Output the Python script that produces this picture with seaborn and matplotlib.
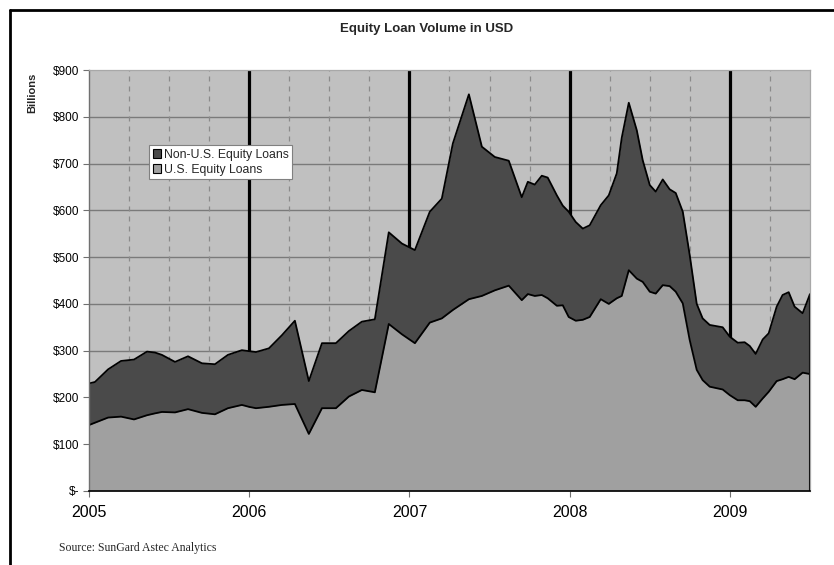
import matplotlib
matplotlib.use("Agg")
import matplotlib.pyplot as plt
import seaborn as sns
import pandas as pd
from matplotlib.lines import Line2D
from matplotlib.patches import Patch

# ---- data ----
years = [2005.000, 2005.037, 2005.119, 2005.200, 2005.281, 2005.362, 2005.412, 2005.455,
         2005.537, 2005.618, 2005.705, 2005.786, 2005.867, 2005.954, 2005.998,
         2006.042, 2006.123, 2006.204, 2006.285, 2006.372, 2006.454, 2006.541, 2006.622,
         2006.703, 2006.784, 2006.871, 2006.953,
         2007.034, 2007.127, 2007.202, 2007.271, 2007.371, 2007.452, 2007.533, 2007.620,
         2007.701, 2007.739, 2007.782, 2007.826, 2007.863, 2007.920, 2007.957, 2007.994,
         2008.038, 2008.082, 2008.125, 2008.194, 2008.244, 2008.294, 2008.325, 2008.369,
         2008.419, 2008.456, 2008.500, 2008.537, 2008.581, 2008.624, 2008.662, 2008.706,
         2008.749, 2008.793, 2008.830, 2008.874, 2008.955, 2008.999,
         2009.049, 2009.092, 2009.124, 2009.161, 2009.205, 2009.242, 2009.292, 2009.329,
         2009.367, 2009.404, 2009.454, 2009.500]

us_loans = [141, 146, 157, 159, 153, 162, 166, 169,
            168, 175, 167, 164, 177, 184, 180,
            177, 180, 184, 186, 122, 177, 177, 202,
            216, 211, 357, 335,
            316, 360, 369, 387, 410, 417, 429, 439,
            408, 421, 417, 419, 412, 396, 397, 372,
            364, 366, 372, 410, 400, 412, 417, 472,
            454, 447, 426, 422, 440, 438, 426, 401,
            323, 259, 237, 223, 217, 205,
            194, 194, 192, 180, 198, 212, 235, 239,
            244, 239, 253, 250]

non_us_loans = [89, 87, 103, 119, 128, 136, 130, 122,
                108, 113, 106, 107, 114, 117, 119,
                120, 125, 149, 178, 113, 139, 139, 140,
                146, 156, 196, 194,
                199, 237, 256, 356, 438, 319, 285, 267,
                220, 240, 238, 255, 258, 236, 213, 225,
                211, 195, 196, 201, 232, 267, 338, 358,
                317, 260, 228, 218, 226, 207, 211, 196,
                182, 141, 132, 132, 133, 125,
                123, 124, 118, 113, 126, 125, 159, 180,
                181, 155, 127, 171]

series_names = ["Non-U.S. Equity Loans", "U.S. Equity Loans"]
y_ticks = [0, 100, 200, 300, 400, 500, 600, 700, 800, 900]
y_labels = ["$-", "$100", "$200", "$300", "$400", "$500", "$600", "$700", "$800", "$900"]
x_ticks = [2005, 2006, 2007, 2008, 2009]
x_labels = ["2005", "2006", "2007", "2008", "2009"]
quarter_ticks = [2005.25, 2005.5, 2005.75, 2006.25, 2006.5, 2006.75, 2007.25, 2007.5,
                 2007.75, 2008.25, 2008.5, 2008.75, 2009.25]

C_BG = "#c0c0c0"
C_US = "#a0a0a0"
C_NONUS = "#4a4a4a"

sns.set_theme(style="white")
plt.rcParams['font.family'] = ['Liberation Sans', 'DejaVu Sans']

df = pd.DataFrame({"year": years, "us": us_loans, "non_us": non_us_loans})
df["total"] = df["us"] + df["non_us"]

W, H = 834, 565
fig = plt.figure(figsize=(W / 100, H / 100), dpi=100)
fig.patch.set_facecolor("white")
ax = fig.add_axes([89 / W, 1 - 491 / H, 721 / W, 421 / H])
ax.set_facecolor(C_BG)

# grid lines (behind data)
ax.set_axisbelow(True)
for y in y_ticks[1:-1]:
    ax.axhline(y, color="#7a7a7a", lw=1.0, zorder=0.5)
for q in quarter_ticks:
    ax.axvline(q, color="#8a8a8a", lw=0.9, ls=(0, (4, 4)), zorder=0.5)
for yr in x_ticks[1:]:
    ax.axvline(yr, color="black", lw=2.3, zorder=0.6)

# stacked areas
ax.fill_between(df["year"], 0, df["us"], color=C_US, lw=0, zorder=2)
ax.fill_between(df["year"], df["us"], df["total"], color=C_NONUS, lw=0, zorder=2)
sns.lineplot(data=df, x="year", y="us", color="black", lw=1.3, ax=ax, zorder=3)
sns.lineplot(data=df, x="year", y="total", color="black", lw=1.3, ax=ax, zorder=3)
ax.vlines(df["year"].iloc[-1], 0, df["total"].iloc[-1], color="black", lw=1.5, zorder=3)

ax.set_xlim(2005, 2009.5)
ax.set_ylim(0, 900)
ax.set_xlabel("")
ax.set_ylabel("")
ax.set_yticks(y_ticks)
ax.set_yticklabels(y_labels, fontsize=8.5, color="black")
ax.set_xticks(x_ticks)
ax.set_xticklabels(x_labels, fontsize=11.5, color="black")
ax.tick_params(axis="y", which="major", direction="out", length=4, width=0.8,
               color="#707070", pad=3, left=True)
ax.tick_params(axis="x", which="major", direction="out", length=4, width=0.8,
               color="#707070", pad=6, bottom=True)

for side in ["top", "right"]:
    ax.spines[side].set_color("#a8a8a8")
    ax.spines[side].set_linewidth(0.9)
ax.spines["left"].set_color("#707070")
ax.spines["left"].set_linewidth(1.0)
ax.spines["bottom"].set_color("black")
ax.spines["bottom"].set_linewidth(1.2)
for s in ax.spines.values():
    s.set_zorder(4)

# legend
handles = [Patch(facecolor=C_NONUS, edgecolor="black", lw=0.8, label=series_names[0]),
           Patch(facecolor=C_US, edgecolor="black", lw=0.8, label=series_names[1])]
leg = ax.legend(handles=handles, loc="upper left",
                bbox_to_anchor=(149 / W, 1 - 145 / H), bbox_transform=fig.transFigure,
                fontsize=8.8, frameon=True, fancybox=False, framealpha=1,
                edgecolor="#808080", borderpad=0.3, labelspacing=0.25,
                handlelength=0.7, handleheight=0.7, handletextpad=0.2,
                borderaxespad=0)
leg.get_frame().set_linewidth(0.8)
leg.set_zorder(5)

# texts
fig.text(427 / W, 1 - 29 / H, "Equity Loan Volume in USD", ha="center", va="center",
         fontsize=9.5, fontweight="bold")
fig.text(32 / W, 1 - 93 / H, "Billions", ha="center", va="center", rotation=90,
         fontsize=8, fontweight="bold")
fig.text(59 / W, 1 - 548 / H, "Source: SunGard Astec Analytics", ha="left", va="center",
         fontsize=8.5, family=["Liberation Serif", "DejaVu Serif"])

# outer frame (left and top edges visible)
fig.add_artist(Line2D([10 / W, 10 / W], [0, 1 - 10 / H], transform=fig.transFigure,
                      color="black", lw=2))
fig.add_artist(Line2D([10 / W, 1], [1 - 10 / H, 1 - 10 / H], transform=fig.transFigure,
                      color="black", lw=2))

fig.savefig("out.png", dpi=100)
